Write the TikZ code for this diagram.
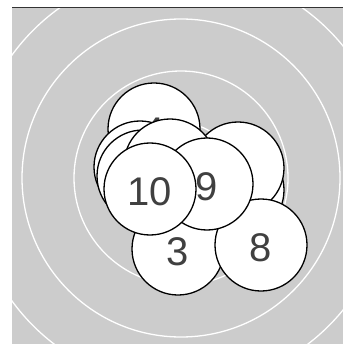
\documentclass[tikz,border=0pt]{standalone}
\usepackage{fontspec}
\setmainfont{Liberation Sans}
\begin{document}
\begin{tikzpicture}[x=1pt,y=-1pt,
  bubble/.style={circle,draw=black,fill=white,line width=1.3pt,minimum size=92pt,inner sep=0pt},
  lbl/.style={inner sep=0pt,font=\fontsize{40}{40}\selectfont,text=black!75},
  ring/.style={draw=white,line width=1.3pt}]
\useasboundingbox (0,0) rectangle (343,344);
\fill[black!20] (12,7) rectangle (343,344);
\begin{scope}
  \clip (12,7) rectangle (343,344);
  \coordinate (ctr) at (181,178);
  \foreach \r in {55,107,159,209} \draw[ring] (ctr) circle[radius=\r];
\end{scope}
\coordinate (axl) at (12,7);
\coordinate (axr) at (343,7);
\draw[black!80,line width=0.9pt] (axl) -- (axr);
% bubbles, back to front
\node[bubble] (nE) at (238,190) {};
\node[bubble] (nD) at (238,168) {};
\node[bubble] (n4) at (154,129) {};
\node[lbl] (t4) at (154,132) {4};
\node[bubble] (nA) at (140,167) {};
\node[bubble] (nB) at (143,176) {};
\node[bubble] (nC) at (170,165) {};
\node[bubble] (n3) at (178,249) {};
\node[lbl] (t3) at (178,252) {3};
\node[bubble] (n8) at (261,245) {};
\node[lbl] (t8) at (261,248) {8};
\node[bubble] (n9) at (207,184) {};
\node[lbl] (t9) at (207,187) {9};
\node[bubble] (n10) at (150,189) {};
\node[lbl] (t10) at (150,192) {10};
\end{tikzpicture}
\end{document}
